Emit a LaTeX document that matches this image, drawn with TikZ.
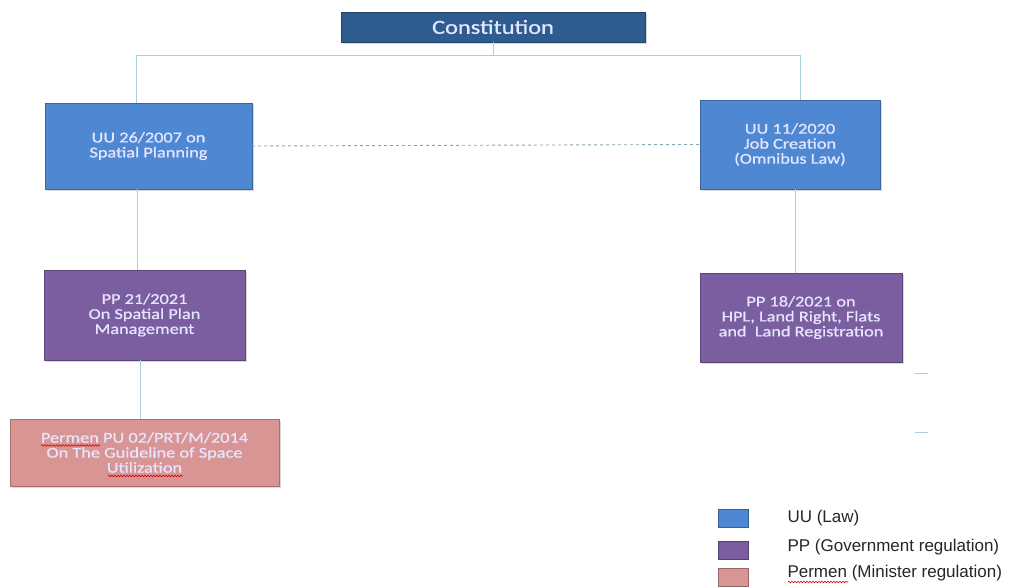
\documentclass[tikz,border=0pt]{standalone}
\usepackage{fontspec}
\setmainfont{Carlito}
\newfontfamily\boxfont[FakeStretch=1.22,FakeBold=0.8]{Carlito}
\newfontfamily\legfont{Liberation Sans}
\usetikzlibrary{calc,shadows,decorations.pathmorphing}

\definecolor{constblue}{HTML}{2E5C8F}
\definecolor{uublue}{HTML}{4F88D2}
\definecolor{pppurple}{HTML}{7B5EA0}
\definecolor{permenred}{HTML}{D99593}
\definecolor{linkblue}{HTML}{A8CEDF}

\begin{document}
\begin{tikzpicture}[x=1pt,y=-1pt,
  regbox/.style={draw=#1!75!black, fill=#1, text=white!90!blue, align=center,
    font=\boxfont\fontsize{15}{15}\selectfont, inner sep=2pt,
    drop shadow={opacity=0.3, shadow xshift=1.5pt, shadow yshift=-2pt}},
  legbox/.style={draw=#1!70!black, fill=#1, minimum width=30pt, minimum height=18pt, inner sep=0pt},
  link/.style={draw=linkblue, line width=0.9pt},
  squiggle/.style={draw=red!85!black, line width=0.6pt,
    decorate, decoration={snake, amplitude=0.8pt, segment length=3pt}},
  leglabel/.style={anchor=west, font=\legfont\fontsize{17}{19}\selectfont, text=black!85}]
\useasboundingbox (0,0) rectangle (1012,588);

% top of the tree
\node[regbox=constblue, minimum width=304pt, minimum height=30pt,
  font=\boxfont\fontsize{20}{22}\selectfont] (const) at (493,27) {Constitution};

% laws
\node[regbox=uublue, minimum width=207pt, minimum height=86pt] (uu26) at (148.5,146)
  {UU 26/2007 on\\Spatial Planning};
\node[regbox=uublue, minimum width=180pt, minimum height=89pt] (uu11) at (790,144.5)
  {UU 11/2020\\Job Creation\\(Omnibus Law)};

% government regulations
\node[regbox=pppurple, minimum width=201pt, minimum height=90pt] (pp21) at (144.5,315)
  {PP 21/2021\\On Spatial Plan\\Management};
\node[regbox=pppurple, minimum width=202pt, minimum height=89pt] (pp18) at (801,317.5)
  {PP 18/2021 on\\HPL, Land Right, Flats\\and~ Land Registration};

% minister regulation
\node[regbox=permenred, minimum width=269pt, minimum height=67pt] (permen) at (144.5,452.5)
  {Permen PU 02/PRT/M/2014\\On The Guideline of Space\\Utilization};

% connectors
\coordinate (bar) at (493,55);
\draw[link] (const.south) -- (bar);
\draw[link] (bar) -| ([xshift=-12.5pt]uu26.north);
\draw[link] (bar) -| ([xshift=10pt]uu11.north);
\draw[link] ([xshift=-11.5pt]uu26.south) -- ([xshift=-11.5pt]uu26.south |- pp21.north);
\draw[link] ([xshift=-4.5pt]pp21.south) -- ([xshift=-4.5pt]pp21.south |- permen.north);
\draw[link] ([xshift=5pt]uu11.south) -- ([xshift=5pt]uu11.south |- pp18.north);
\draw[link, draw=linkblue!80!black, dashed] (uu26.east) -- (uu11.west);

% stray marks on the right
\coordinate (m1a) at (915,373); \coordinate (m1b) at (928,373);
\coordinate (m2a) at (915,432); \coordinate (m2b) at (928,432);
\draw[link] (m1a) -- (m1b);
\draw[link] (m2a) -- (m2b);

% legend
\node[legbox=uublue] (kuu) at (733,518) {};
\node[legbox=pppurple] (kpp) at (733,550) {};
\node[legbox=permenred] (kpermen) at (733,577) {};
\node[leglabel] (luu) at (784,518) {UU (Law)};
\node[leglabel] (lpp) at (784,547) {PP (Government regulation)};
\node[leglabel] (lpermen) at (784,573) {Permen (Minister regulation)};

% spell-check marks
\draw[squiggle] (41,445.5) -- (100,445.5);
\draw[squiggle] (108,476) -- (183,476);
\draw[squiggle] (788,582) -- (848,582);
\end{tikzpicture}
\end{document}
